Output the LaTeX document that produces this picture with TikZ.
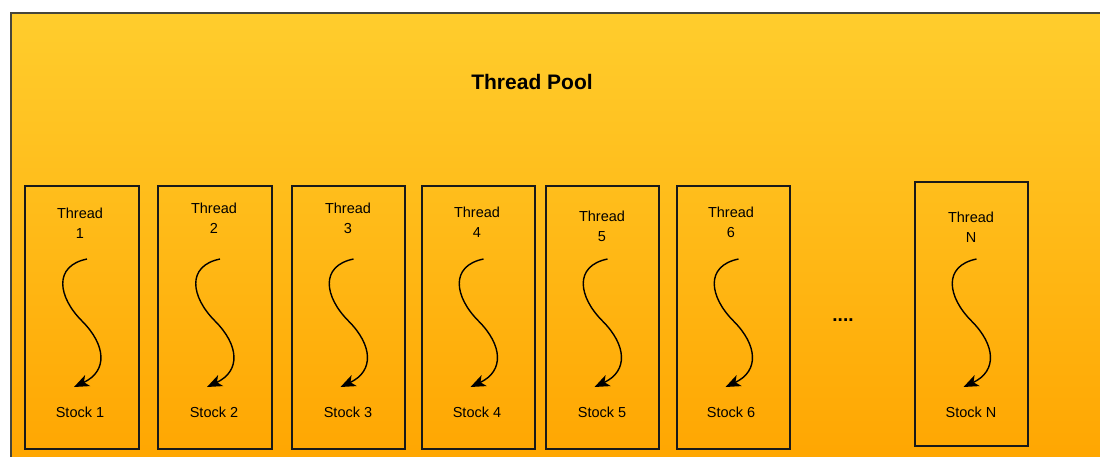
\documentclass[tikz,border=0pt]{standalone}
\usepackage{fontspec}
\setmainfont{Liberation Sans}
\usetikzlibrary{arrows.meta,calc}
\definecolor{pooltop}{RGB}{255,205,45}
\definecolor{poolbot}{RGB}{255,165,0}
\definecolor{poolline}{RGB}{70,70,60}
\tikzset{
  threadbox/.style={draw=black!90, line width=1.3pt, rectangle, inner sep=0pt},
  lbl/.style={font=\fontsize{14.5}{20}\selectfont, text=black, align=center, inner sep=0pt},
  flow/.style={line width=1.4pt, draw=black, -{Stealth[length=15pt,width=12pt,inset=4pt]}},
}
\begin{document}
\begin{tikzpicture}[x=1pt,y=-1pt]
\useasboundingbox (0,0) rectangle (1100,456);
\clip (0,0) rectangle (1100,456);
\fill[white] (0,0) rectangle (1100,456);
\node[draw=poolline, line width=1.5pt, top color=pooltop, bottom color=poolbot, minimum width=1110pt, minimum height=460pt, inner sep=0pt, anchor=north west] (pool) at (10,12) {};
\node[font=\fontsize{21}{24}\selectfont\bfseries, text=black] (title) at (532,82) {Thread Pool};
\foreach \i/\cx/\cy/\w/\h/\tx/\ty/\lab in {
  1/82/317.5/114/263/80/223.5/1,
  2/215/317.5/114/263/214/218.5/2,
  3/348.5/317.5/113/263/348/218.5/3,
  4/478.5/317.5/113/263/477/222.5/4,
  5/602.5/317.5/113/263/602/226.5/5,
  6/733.5/317.5/113/263/731/222.5/6,
  N/971.5/314/113/264/971/227.5/N}{
  \node[threadbox, minimum width=\w pt, minimum height=\h pt] (b\i) at (\cx,\cy) {};
  \node[lbl] (t\i) at (\tx,\ty) {Thread\\\lab};
  \node[lbl] (s\i) at (\tx,412) {Stock \lab};
  \coordinate (a\i) at ($(\cx,0)+(5,259)$);
  \coordinate (m\i) at ($(\cx,0)+(0,321)$);
  \coordinate (e\i) at ($(\cx,0)+(-8,387)$);
  \draw[flow] (a\i) .. controls ($(a\i)+(-34,7)$) and ($(m\i)+(-24,-24)$) .. (m\i)
     .. controls ($(m\i)+(24,24)$) and ($(m\i)+(26,50)$) .. (e\i);
}
\node[font=\fontsize{19}{20}\selectfont\bfseries] (dots) at (843,320) {....};
\end{tikzpicture}
\end{document}
